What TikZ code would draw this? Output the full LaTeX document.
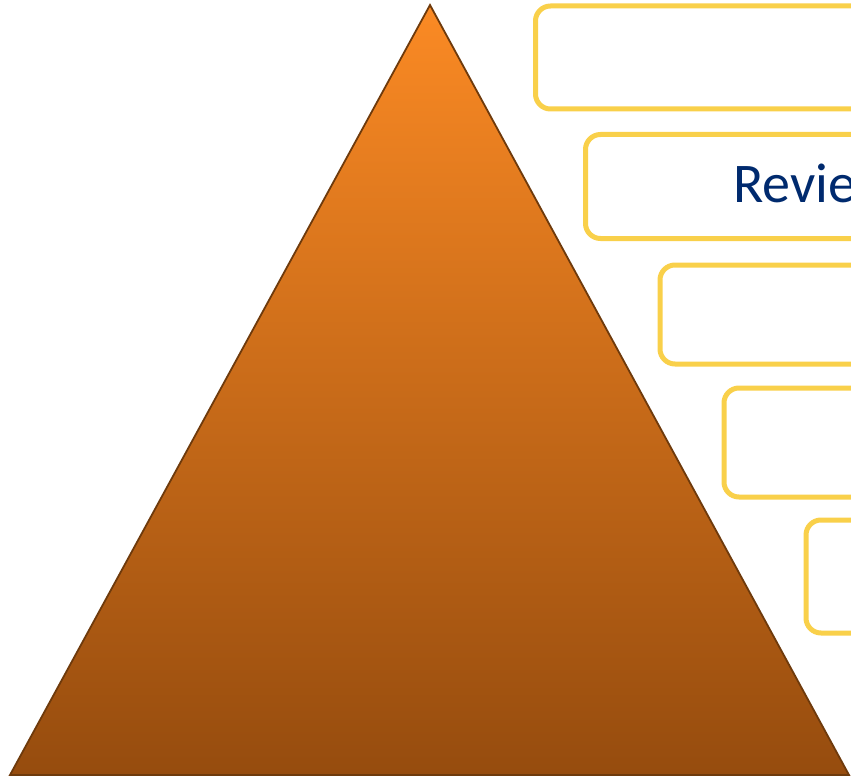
\documentclass[tikz,border=0pt]{standalone}
\usepackage{fontspec}
\setmainfont{Carlito}
\definecolor{boxyellow}{HTML}{F9D04A}
\definecolor{txtblue}{HTML}{002A6E}
\definecolor{triTop}{HTML}{FB8A24}
\definecolor{triBot}{HTML}{964C0E}
\definecolor{triEdge}{HTML}{6E3A0C}
\tikzset{
  stagebox/.style={draw=boxyellow, line width=5pt, rounded corners=15pt, fill=white},
}
\begin{document}
\begin{tikzpicture}[x=1pt,y=-1pt]
\useasboundingbox (0,0) rectangle (851,778);
\begin{scope}
\clip (0,0) rectangle (851,778);
\coordinate (apex) at (430,5);
\coordinate (bl) at (10,775);
\coordinate (br) at (849,775);
\path[draw=triEdge, line width=1.8pt, line join=miter, top color=triTop, bottom color=triBot] (apex) -- (br) -- (bl) -- cycle;
\draw[stagebox] (535.5,6) rectangle (900,109) node[pos=0.5] (b1) {};
\draw[stagebox] (585.5,134.5) rectangle (900,238.5) node[pos=0.5] (b2) {};
\draw[stagebox] (660,265) rectangle (900,364) node[pos=0.5] (b3) {};
\draw[stagebox] (724,388) rectangle (900,497) node[pos=0.5] (b4) {};
\draw[stagebox] (806,520) rectangle (900,633) node[pos=0.5] (b5) {};
\node[anchor=base west, inner sep=0pt, text=txtblue, font=\fontsize{56}{60}\selectfont] (t2) at (733,203) {Revie};
\end{scope}
\end{tikzpicture}
\end{document}
